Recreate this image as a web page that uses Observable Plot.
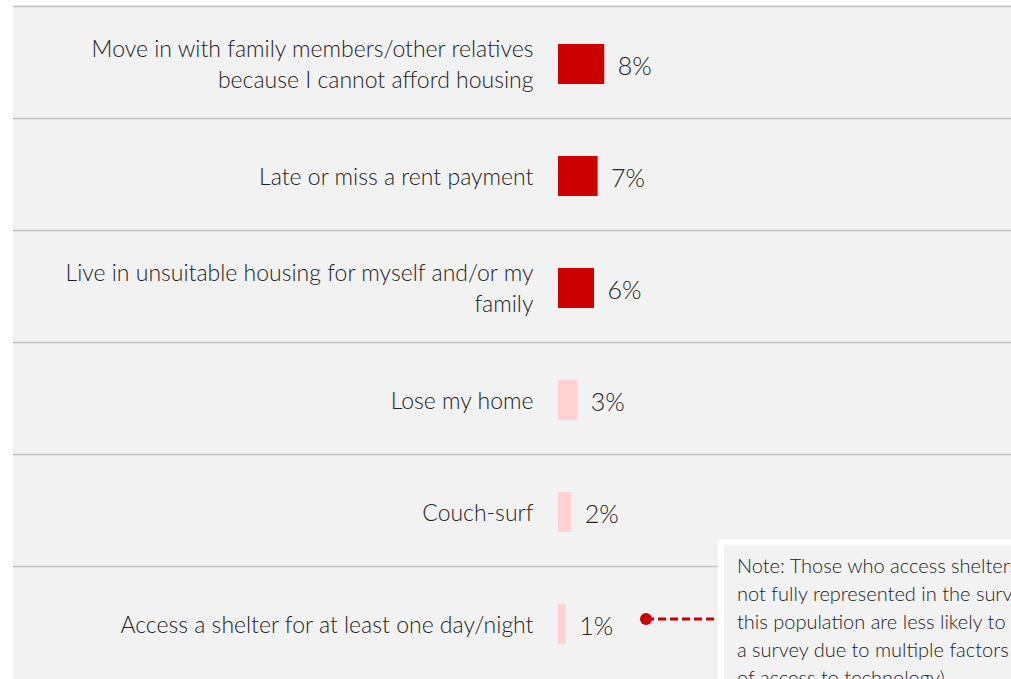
<!DOCTYPE html>
<html>
<head>
<meta charset="utf-8">
<script src="https://cdn.jsdelivr.net/npm/d3@7"></script>
<script src="https://cdn.jsdelivr.net/npm/@observablehq/plot@0.6"></script>
<style>
  html, body { margin: 0; padding: 0; background: #ffffff; overflow: hidden; }
  body { width: 1011px; height: 679px; position: relative; font-family: Lato, "Open Sans", sans-serif; }
  #chart { position: absolute; left: 13px; top: 5px; }
  #chart svg { background: #f2f2f2; display: block; }
  #note {
    position: absolute; left: 718px; top: 539px; width: 340px; height: 200px;
    background: #f2f2f2; border: 6px solid #ffffff; border-radius: 4px;
    box-sizing: border-box; padding: 6px 0 0 13px;
    font-family: Lato, sans-serif; font-weight: 300; font-size: 20px; line-height: 28px; color: #222;
    white-space: nowrap;
  }
  #connector { position: absolute; left: 0; top: 0; pointer-events: none; }
</style>
</head>
<body>
<div id="chart"></div>
<svg id="connector" width="1011" height="679">
  <line x1="646" y1="619" x2="718" y2="619" stroke="#cc0000" stroke-width="3" stroke-dasharray="8,4"></line>
  <circle cx="646" cy="619" r="6" fill="#cc0000"></circle>
</svg>
<div id="note">Note: Those who access shelters are<br>not fully represented in the survey as<br>this population are less likely to complete<br>a survey due to multiple factors (e.g. lack<br>of access to technology).</div>
<script>
const categories = [
  "Move in with family members/other relatives\nbecause I cannot afford housing",
  "Late or miss a rent payment",
  "Live in unsuitable housing for myself and/or my\nfamily",
  "Lose my home",
  "Couch-surf",
  "Access a shelter for at least one day/night"
];
const values = [7.7, 6.6, 6.0, 3.2, 2.2, 1.3];
const valueLabels = ["8%", "7%", "6%", "3%", "2%", "1%"];
const groups = ["high", "high", "high", "low", "low", "low"];

const rows = categories.map((c, i) => ({
  category: c, index: i, value: values[i], label: valueLabels[i], group: groups[i]
}));

const chart = Plot.plot({
  width: 998,
  height: 674,
  margin: 0,
  style: { background: "#f2f2f2", fontFamily: "Lato, sans-serif" },
  x: { domain: [0, 10], range: [545, 605], axis: null },
  y: { domain: [0, 6], range: [1, 673], axis: null },
  color: { domain: ["high", "low"], range: ["#cc0000", "#ffd1d1"] },
  marks: [
    Plot.ruleY(d3.range(0, 6), { y: d => d, stroke: "#c2c2c2", strokeWidth: 1.5 }),
    Plot.rectX(rows, {
      x1: 0, x2: "value", y1: "index", y2: d => d.index + 1,
      fill: "group", insetTop: 38, insetBottom: 34
    }),
    Plot.text(rows, {
      x: 0, y: d => d.index + 0.5, text: "category", dx: -25, dy: 0,
      textAnchor: "end", fontSize: 23, fontWeight: 300, fill: "#222", lineHeight: 1.36
    }),
    Plot.text(rows, {
      x: "value", y: d => d.index + 0.5, text: "label", dx: 13, dy: 4,
      textAnchor: "start", fontSize: 25, fontWeight: 300, fill: "#222"
    })
  ]
});
document.getElementById("chart").appendChild(chart);
</script>
</body>
</html>
